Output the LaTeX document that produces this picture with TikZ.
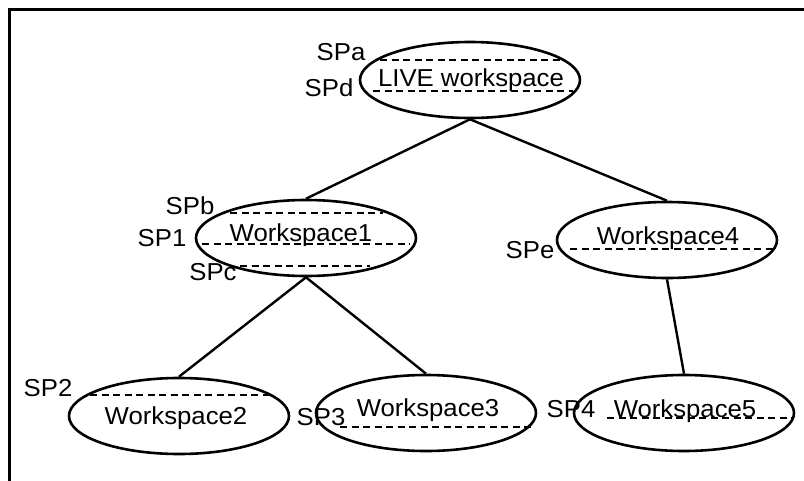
\documentclass[tikz,border=0pt]{standalone}
\usepackage{fontspec}
\setmainfont{Liberation Sans}[FakeStretch=1.05]
\usetikzlibrary{shapes.geometric}
\begin{document}
\begin{tikzpicture}[x=1pt,y=-1pt,
  ws/.style={ellipse,draw,line width=2.6pt,minimum width=220pt,minimum height=76pt,inner sep=0pt,font=\fontsize{24.5}{28}\selectfont},
  sp/.style={inner sep=0pt,font=\fontsize{24.5}{28}\selectfont},
  dline/.style={line width=2.2pt,dash pattern=on 7pt off 4.5pt},
  conn/.style={line width=2.4pt}]
\useasboundingbox (0,0) rectangle (804,480);
% frame (right and bottom edges lie outside the picture)
\draw[line width=3pt] (9,490) -- (9,9) -- (815,9);
% workspaces
\node[ws] (live) at (470,80) {};
\node[sp] (livet) at (471,80) {LIVE workspace};
\node[ws] (ws1) at (306,238) {};
\node[sp] (ws1t) at (301,235) {Workspace1};
\node[ws] (ws4) at (667,240) {};
\node[sp] (ws4t) at (668,238) {Workspace4};
\node[ws] (ws2) at (179,416) {};
\node[sp] (ws2t) at (176,418) {Workspace2};
\node[ws] (ws3) at (426,413) {};
\node[sp] (ws3t) at (428,410) {Workspace3};
\node[ws] (ws5) at (684,413) {};
\node[sp] (ws5t) at (685,411) {Workspace5};
% dashed lines
\draw[dline] (380,60) -- (560,60);
\draw[dline] (373,91) -- (573,91);
\draw[dline] (230,213) -- (383,213);
\draw[dline] (202,244) -- (410,244);
\draw[dline] (240,266) -- (370,266);
\draw[dline] (570,249) -- (773,249);
\draw[dline] (90,395) -- (270,395);
\draw[dline] (340,427) -- (533,427);
\draw[dline] (607,418) -- (792,418);
% labels
\node[sp] (spa) at (341,52) {SPa};
\node[sp] (spd) at (329,88) {SPd};
\node[sp] (spb) at (190,206) {SPb};
\node[sp] (sp1) at (162,238) {SP1};
\node[sp] (spc) at (213,272) {SPc};
\node[sp] (spe) at (530,250) {SPe};
\node[sp] (sp2) at (48,388) {SP2};
\node[sp] (sp3) at (321,417) {SP3};
\node[sp] (sp4) at (571,409) {SP4};
% connectors
\draw[conn] (live.south) -- (ws1.north);
\draw[conn] (live.south) -- (ws4.north);
\draw[conn] (ws1.south) -- (ws2.north);
\draw[conn] (ws1.south) -- (ws3.north);
\draw[conn] (ws4.south) -- (ws5.north);
\end{tikzpicture}
\end{document}
